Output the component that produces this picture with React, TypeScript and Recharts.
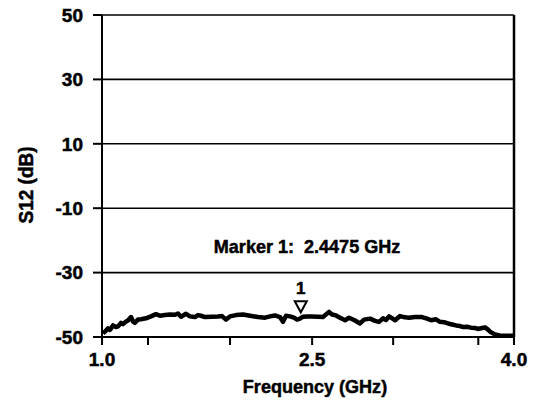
import React from 'react';
import {
  LineChart,
  Line,
  XAxis,
  YAxis,
  CartesianGrid,
  ReferenceLine,
  ReferenceDot,
} from 'recharts';

// Swept transmission measurement, 1.0 – 4.0 GHz
const FREQ_GHZ = [
  1.007, 1.029, 1.044, 1.058, 1.08, 1.102, 1.117, 1.138, 1.153, 1.175, 1.189, 1.211,
  1.226, 1.24, 1.262, 1.284, 1.32, 1.357, 1.393, 1.422, 1.459, 1.495, 1.532, 1.553,
  1.575, 1.612, 1.641, 1.677, 1.699, 1.721, 1.75, 1.801, 1.845, 1.874, 1.903, 1.932,
  1.976, 2.027, 2.078, 2.136, 2.187, 2.223, 2.26, 2.296, 2.318, 2.34, 2.369, 2.398,
  2.42, 2.442, 2.464, 2.493, 2.529, 2.573, 2.609, 2.653, 2.675, 2.704, 2.733, 2.77,
  2.799, 2.842, 2.879, 2.908, 2.952, 2.988, 3.017, 3.046, 3.068, 3.09, 3.119, 3.134,
  3.17, 3.206, 3.236, 3.279, 3.33, 3.367, 3.396, 3.432, 3.461, 3.49, 3.52, 3.549,
  3.578, 3.607, 3.629, 3.658, 3.687, 3.716, 3.738, 3.767, 3.789, 3.811, 3.825, 3.847,
  3.869, 3.898, 3.935, 3.971, 4.0,
];

const S12_DB = [
  -48.9, -48.0, -47.3, -47.8, -46.4, -46.9, -46.7, -45.6, -46.0, -45.2, -44.9, -43.8,
  -45.2, -45.6, -44.6, -44.5, -44.2, -43.6, -42.9, -43.4, -43.2, -43.0, -43.1, -42.7,
  -43.7, -42.8, -43.6, -43.8, -43.2, -43.4, -43.8, -43.7, -43.6, -43.5, -44.6, -43.6,
  -43.2, -43.0, -43.4, -43.8, -44.0, -43.6, -43.3, -43.8, -45.3, -43.4, -43.6, -44.0,
  -44.6, -44.3, -43.7, -43.6, -43.6, -43.7, -43.8, -42.2, -43.0, -43.3, -44.0, -44.8,
  -44.0, -44.9, -45.8, -44.6, -44.3, -45.0, -45.3, -44.2, -44.7, -43.6, -44.4, -44.8,
  -43.5, -43.9, -44.0, -43.8, -43.8, -44.3, -44.8, -44.5, -45.3, -45.4, -45.8, -46.1,
  -46.4, -46.6, -46.9, -46.8, -47.1, -47.2, -47.5, -47.2, -47.0, -47.7, -48.3, -48.9,
  -49.3, -49.5, -49.6, -49.6, -49.6,
];

const Y_TICKS = [-50, -30, -10, 10, 30, 50];
const X_TICKS = [1.0, 1.335, 1.932, 2.53, 3.12, 3.74, 4.0];
const X_TICK_LABELS = ['1.0', '', '', '2.5', '', '', '4.0'];

const MARKER_NAME = '1';
const MARKER_FREQ = 2.4475;
const MARKER_DB = -44.2;
const MARKER_TEXT = `Marker ${MARKER_NAME}:  ${MARKER_FREQ} GHz`;
const MARKER_TEXT_POS = { x: 2.493, y: -23.9 };

const X_TITLE = 'Frequency (GHz)';
const Y_TITLE = 'S12 (dB)';

const data = FREQ_GHZ.map((f, i) => ({ f, s12: S12_DB[i] }));

const FONT = "'Liberation Sans', Arial, Helvetica, sans-serif";

// Heavy black lettering: bold face plus a thin outline
const textStyle = {
  fill: '#000',
  stroke: '#000',
  strokeWidth: 0.5,
  fontSize: 19,
  fontWeight: 700,
  fontFamily: FONT,
};

// Condensed look: squeeze wide titles horizontally
const CONDENSE = 0.95;

const CondensedText = ({
  x,
  y,
  children,
  size = 19,
  rotate = false,
}: {
  x: number;
  y: number;
  children: string;
  size?: number;
  rotate?: boolean;
}) => (
  <g transform={`translate(${x}, ${y})${rotate ? ' rotate(-90)' : ''} scale(${CONDENSE}, 1)`}>
    <text
      x={0}
      y={0}
      textAnchor="middle"
      style={{ whiteSpace: 'pre' }}
      {...textStyle}
      fontSize={size}
    >
      {children}
    </text>
  </g>
);

const XTick = (props: any) => {
  const { x, y, index } = props;
  const label = X_TICK_LABELS[index];
  if (!label) return <g />;
  return (
    <text x={x} y={y} dy="0.71em" textAnchor="middle" {...textStyle}>
      {label}
    </text>
  );
};

const YTick = (props: any) => {
  const { x, y, payload } = props;
  return (
    <text x={x} y={y} dy="0.36em" textAnchor="end" {...textStyle}>
      {payload.value}
    </text>
  );
};

const MarkerShape = (props: any) => {
  const { cx, cy } = props;
  const tipY = cy - 6;
  const top = tipY - 11;
  return (
    <g>
      <path
        d={`M ${cx - 6} ${top} L ${cx + 6} ${top} L ${cx} ${tipY} Z`}
        fill="#fff"
        stroke="#000"
        strokeWidth={2}
        strokeLinejoin="miter"
      />
      <text x={cx} y={top - 7} textAnchor="middle" {...textStyle} fontSize={17}>
        {MARKER_NAME}
      </text>
    </g>
  );
};

const AnnotationShape = (props: any) => {
  const { cx, cy } = props;
  return <CondensedText x={cx} y={cy}>{MARKER_TEXT}</CondensedText>;
};

const XTitle = (props: any) => {
  const vb = props.viewBox || { x: 102, y: 337, width: 412, height: 71 };
  return (
    <CondensedText x={vb.x + vb.width / 2 + 7} y={vb.y + vb.height - 15}>
      {X_TITLE}
    </CondensedText>
  );
};

const YTitle = (props: any) => {
  const vb = props.viewBox || { x: 0, y: 15, width: 102, height: 322 };
  return (
    <CondensedText x={vb.x + 33} y={vb.y + vb.height / 2 + 9} size={20} rotate>
      {Y_TITLE}
    </CondensedText>
  );
};

export default function App() {
  return (
    <div style={{ position: 'absolute', left: 0, top: 0, background: '#fff' }}>
      <LineChart
        width={537}
        height={408}
        data={data}
        margin={{ top: 15, right: 23, bottom: 0, left: 0 }}
      >
        <CartesianGrid vertical={false} stroke="#000" strokeWidth={1.6} />
        <XAxis
          dataKey="f"
          type="number"
          domain={[1, 4]}
          ticks={X_TICKS}
          interval={0}
          height={71}
          tickSize={8}
          tickMargin={8}
          axisLine={{ stroke: '#000', strokeWidth: 2 }}
          tickLine={{ stroke: '#000', strokeWidth: 2 }}
          tick={<XTick />}
          label={{ content: <XTitle /> }}
        />
        <YAxis
          type="number"
          domain={[-50, 50]}
          ticks={Y_TICKS}
          interval={0}
          width={102}
          tickSize={9}
          tickMargin={10}
          axisLine={{ stroke: '#000', strokeWidth: 2 }}
          tickLine={{ stroke: '#000', strokeWidth: 2 }}
          tick={<YTick />}
          label={{ content: <YTitle /> }}
        />
        <ReferenceLine x={4} stroke="#000" strokeWidth={2.5} />
        <Line
          type="linear"
          dataKey="s12"
          stroke="#000"
          strokeWidth={4.5}
          strokeLinejoin="round"
          dot={false}
          isAnimationActive={false}
        />
        <ReferenceDot x={MARKER_FREQ} y={MARKER_DB} r={0} shape={<MarkerShape />} />
        <ReferenceDot
          x={MARKER_TEXT_POS.x}
          y={MARKER_TEXT_POS.y}
          r={0}
          shape={<AnnotationShape />}
        />
      </LineChart>
    </div>
  );
}
